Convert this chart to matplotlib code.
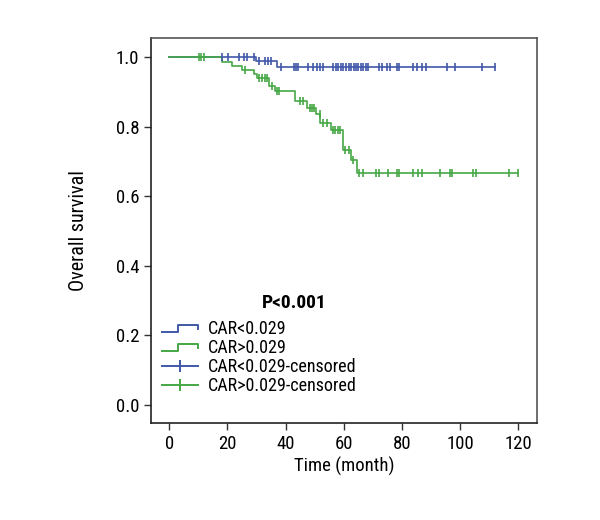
import numpy as np
import matplotlib
matplotlib.use("Agg")
import matplotlib.pyplot as plt
from matplotlib.lines import Line2D
from matplotlib.legend_handler import HandlerBase
from matplotlib import font_manager

# ---------------- data ----------------
group_labels = ["CAR<0.029", "CAR>0.029"]

# low CAR group (blue): event times and survival after each event
blue_event_times = [0, 30.0, 37.0]
blue_surv = [1.0, 0.988, 0.972]
blue_end = 112
blue_censor_times = [18.1, 20.1, 24.1, 25.7, 26.8, 29.3, 30.9, 32.8, 34.0, 35.1,
                     38.4, 42.8, 43.7, 44.3, 47.9, 49.6, 50.8, 51.9, 52.8,
                     56.5, 57.4, 58.2, 59.1, 59.9, 60.8, 61.7, 62.5, 63.4, 64.3,
                     65.1, 66.0, 66.8, 67.7, 68.5, 72.0, 73.1, 74.9, 76.0, 78.3,
                     79.2, 83.8, 85.2, 86.9, 88.4, 95.5, 98.3, 107.5, 111.9]

# high CAR group (green)
green_event_times = [0, 18.1, 21.6, 25.0, 29.0, 30.1, 34.2, 36.5, 43.3, 47.3,
                     50.5, 51.9, 55.6, 59.7, 62.5, 64.5]
green_surv = [1.0, 0.986, 0.974, 0.963, 0.951, 0.940, 0.917, 0.903, 0.874, 0.855,
              0.836, 0.811, 0.790, 0.733, 0.704, 0.666]
green_end = 120
green_censor_times = [10.4, 11.0, 11.8, 26.1, 30.9, 31.9, 32.8, 33.6, 35.3, 37.0,
                      37.9, 45.0, 46.0, 48.3, 49.1, 49.9, 51.7, 52.8, 54.2, 56.3,
                      57.1, 58.0, 58.8, 60.5, 62.0, 63.2, 65.3, 66.8, 71.2, 72.0,
                      75.1, 78.3, 79.1, 84.0, 85.7, 86.9, 93.0, 96.6, 97.2, 104.6,
                      105.6, 117.0, 119.8]

x_ticks = [0, 20, 40, 60, 80, 100, 120]
y_ticks = [0.0, 0.2, 0.4, 0.6, 0.8, 1.0]
p_text = "P<0.001"

# ---------------- style ----------------
names = {f.name for f in font_manager.fontManager.ttflist}
prefs = ["Liberation Sans Narrow", "Roboto Condensed", "Open Sans Condensed",
         "DejaVu Sans Condensed", "Arial Narrow", "Roboto"]
fam = [p for p in prefs if p in names][:1] + ["DejaVu Sans"]
plt.rcParams["font.family"] = fam

BLUE = "#4058a8"
GREEN = "#45a845"

fig = plt.figure(figsize=(6, 5.2), dpi=100)
ax = fig.add_axes([0.252, 0.1865, 0.643, 0.7405])


def km(ax, times, surv, end, censor, color):
    xs = list(times) + [end]
    ys = list(surv) + [surv[-1]]
    ax.step(xs, ys, where="post", color=color, lw=1.2, zorder=2)
    t = np.array(times)
    s = np.array(surv)
    idx = np.searchsorted(t, np.array(censor), side="right") - 1
    ax.plot(censor, s[idx], ls="none", marker="|", ms=6, mew=1.2, color=color, zorder=3)


km(ax, blue_event_times, blue_surv, blue_end, blue_censor_times, BLUE)
km(ax, green_event_times, green_surv, green_end, green_censor_times, GREEN)

ax.set_xlim(-6.2, 126.5)
ax.set_ylim(-0.052, 1.055)
ax.set_xticks(x_ticks)
ax.set_xticklabels([str(v) for v in x_ticks])
ax.set_yticks(y_ticks)
ax.set_yticklabels([f"{v:.1f}" for v in y_ticks])
ax.tick_params(direction="out", length=5, width=1, labelsize=13.5, color="#333333")
for sp in ax.spines.values():
    sp.set_color("#555555")
    sp.set_linewidth(1.2)
ax.spines["left"].set_color("#222222")
ax.spines["bottom"].set_color("#222222")
ax.set_xlabel("Time (month)", fontsize=13.5, labelpad=3)
ax.set_ylabel("Overall survival", fontsize=14.5, labelpad=20)

ax.text(43, 0.293, p_text, fontsize=14, fontweight="bold", ha="center", va="center")


class StepHandler(HandlerBase):
    def create_artists(self, legend, orig_handle, xdescent, ydescent, width, height, fontsize, trans):
        w, h = width, height
        x = np.array([0, 0.45, 0.45, 1.0, 1.0]) * w - xdescent
        y = np.array([0.15, 0.15, 0.7, 0.7, 0.4]) * h - ydescent
        ln = Line2D(x, y, color=orig_handle.get_color(), lw=1.4, transform=trans)
        return [ln]


h1 = Line2D([], [], color=BLUE)
h2 = Line2D([], [], color=GREEN)
h3 = Line2D([], [], color=BLUE, lw=1.4, marker="|", ms=9, mew=1.4)
h4 = Line2D([], [], color=GREEN, lw=1.4, marker="|", ms=9, mew=1.4)
leg = ax.legend([h1, h2, h3, h4],
                [group_labels[0], group_labels[1],
                 group_labels[0] + "-censored", group_labels[1] + "-censored"],
                handler_map={h1: StepHandler(), h2: StepHandler()},
                loc="lower left", bbox_to_anchor=(0.0, 0.045), frameon=False,
                fontsize=13, handlelength=2.0, handletextpad=0.55,
                labelspacing=0.05, borderaxespad=0.2)

fig.savefig("out.png", dpi=100)
